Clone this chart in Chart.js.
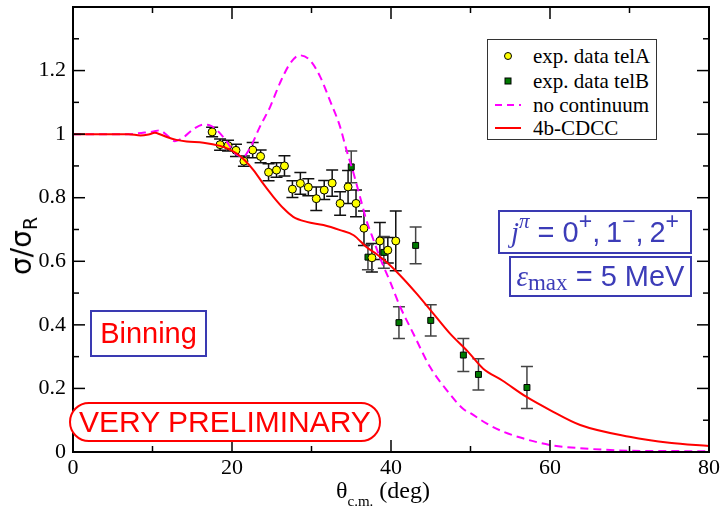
<!DOCTYPE html>
<html><head><meta charset="utf-8">
<script src="https://cdn.jsdelivr.net/npm/chart.js@4.4.0/dist/chart.umd.min.js"></script>
<style>
body{margin:0;background:#fff;}
#wrap{position:relative;width:724px;height:509px;overflow:hidden;background:#fff;}
canvas{position:absolute;left:0;top:0;}
.ov{position:absolute;white-space:nowrap;line-height:1;}
#ytitle{left:24px;top:246px;transform:translate(-50%,-50%) rotate(-90deg);font-family:"DejaVu Sans",sans-serif;font-size:28px;color:#000;}
#ytitle sub{font-size:19px;vertical-align:-6px;}
#xtitle{left:383px;top:478px;transform:translateX(-50%);font-family:"Liberation Serif",serif;font-size:24px;color:#000;}
#xtitle sub{font-size:15px;vertical-align:-8px;}
#legend{left:487px;top:39px;width:168px;height:99px;border:1.5px solid #333;font-family:"Liberation Serif",serif;font-size:21px;color:#000;background:#fff;}
.lrow{position:absolute;left:0;height:24px;display:flex;align-items:center;}
.lrow svg{margin-left:7px;margin-right:12px;}
.box{display:flex;align-items:center;justify-content:center;box-sizing:border-box;}
#jpi{left:498px;top:210px;width:194px;height:44px;border:2px solid #3a3ab2;color:#3c3cb8;font-family:"Liberation Sans",sans-serif;font-size:29px;}
#emax{left:509px;top:256px;width:183px;height:41px;border:2px solid #3a3ab2;color:#3c3cb8;font-family:"Liberation Sans",sans-serif;font-size:29px;}
.mi{font-family:"Liberation Serif",serif;font-style:italic;}
#jpi sup{font-size:23px;line-height:1;position:relative;top:-11px;vertical-align:baseline;}
#jpi sup.mi{font-size:21px;}
#emax sub{font-family:"Liberation Serif",serif;font-size:23px;line-height:1;position:relative;top:6px;vertical-align:baseline;}
#binning{left:90px;top:310px;width:117px;height:47px;border:2px solid #3a3ab2;color:#ff0000;font-family:"Liberation Sans",sans-serif;font-size:29px;}
#prelim{left:69px;top:402px;width:312px;height:40px;border:2.5px solid #ff0000;border-radius:20px;color:#ff0000;font-family:"Liberation Sans",sans-serif;font-size:30px;background:#fff;}
</style></head><body>
<div id="wrap">
<canvas id="c" width="724" height="509"></canvas>
<div class="ov" id="ytitle">σ/σ<sub>R</sub></div>
<div class="ov" id="xtitle">θ<sub>c.m.</sub> (deg)</div>
<div class="ov" id="legend">
  <div class="lrow" style="top:4px"><svg width="26" height="10"><circle cx="13" cy="5" r="3.5" fill="#ffff00" stroke="#000" stroke-width="1"/></svg>exp. data telA</div>
  <div class="lrow" style="top:29px"><svg width="26" height="10"><rect x="10" y="2" width="6" height="6" fill="#007a00" stroke="#000" stroke-width="1"/></svg>exp. data telB</div>
  <div class="lrow" style="top:53px"><svg width="26" height="10"><line x1="0" y1="5" x2="26" y2="5" stroke="#ff00ff" stroke-width="2" stroke-dasharray="7,5"/></svg>no continuum</div>
  <div class="lrow" style="top:76px"><svg width="26" height="10"><line x1="0" y1="5" x2="26" y2="5" stroke="#ff0000" stroke-width="2"/></svg>4b-CDCC</div>
</div>
<div class="ov box" id="jpi"><span class="mi">j</span><sup class="mi">π</sup>&nbsp;=&nbsp;0<sup>+</sup>,&thinsp;1<sup>−</sup>,&thinsp;2<sup>+</sup></div>
<div class="ov box" id="emax"><span class="mi">ε</span><sub>max</sub>&nbsp;=&nbsp;5 MeV</div>
<div class="ov box" id="binning">Binning</div>
<div class="ov box" id="prelim">VERY PRELIMINARY</div>
</div>
<script>
// ---- data ----
const xTickLabels = [0, 20, 40, 60, 80];
const yTickLabels = [0, 0.2, 0.4, 0.6, 0.8, 1, 1.2];

const telA_x = [17.5, 18.5, 19.5, 20.5, 21.5, 22.6, 23.6, 24.6, 25.6, 26.6, 27.6, 28.6, 29.6, 30.6, 31.6, 32.6, 33.6, 34.6, 35.6, 36.6, 37.6, 38.6, 39.6, 40.6];
const telA_y = [1.007, 0.967, 0.964, 0.949, 0.915, 0.950, 0.930, 0.880, 0.887, 0.900, 0.827, 0.845, 0.833, 0.797, 0.824, 0.846, 0.782, 0.834, 0.782, 0.704, 0.611, 0.664, 0.635, 0.664];
const telA_err = [0.015, 0.018, 0.017, 0.019, 0.016, 0.024, 0.020, 0.027, 0.023, 0.032, 0.026, 0.034, 0.027, 0.037, 0.030, 0.041, 0.037, 0.052, 0.042, 0.054, 0.045, 0.058, 0.040, 0.094];

const telB_x = [35.0, 37.1, 39.1, 41.0, 43.1, 45.0, 49.1, 51.0, 57.1];
const telB_y = [0.897, 0.613, 0.628, 0.407, 0.650, 0.414, 0.305, 0.244, 0.203];
const telB_err = [0.050, 0.040, 0.050, 0.050, 0.058, 0.049, 0.052, 0.049, 0.066];

const noCont_x = [0, 2, 4, 6, 7, 8, 9, 10.1, 10.9, 11.8, 12.8, 13.9, 15.1, 16.4, 17.3, 18.1, 19.3, 20.4, 21.4, 22.3, 23.5, 24.8, 26.0, 27.3, 28.5, 29.8, 31.1, 32.3, 33.6, 34.4, 35.3, 36.1, 36.9, 37.8, 38.6, 39.9, 41.1, 42.8, 44.9, 47.0, 49.1, 50.0, 52.0, 54.1, 56.6, 60, 63.8, 70, 75, 80];
const noCont_y = [1.0, 1.0, 1.0, 1.0, 1.0, 1.002, 1.005, 1.008, 1.012, 0.997, 0.978, 0.990, 1.015, 1.030, 1.027, 1.013, 0.978, 0.940, 0.929, 0.958, 1.023, 1.086, 1.159, 1.222, 1.248, 1.233, 1.180, 1.107, 1.023, 0.950, 0.876, 0.803, 0.730, 0.667, 0.612, 0.535, 0.460, 0.373, 0.268, 0.195, 0.135, 0.122, 0.090, 0.064, 0.043, 0.022, 0.012, 0.004, 0.003, 0.002];

const cdcc_x = [0, 4, 7, 8.5, 9.5, 10.3, 11.0, 11.8, 13.0, 14.3, 16.4, 18.5, 19.6, 20.6, 21.6, 22.7, 23.9, 25.2, 26.5, 27.7, 29.4, 31.5, 33.6, 35.3, 36.9, 38.2, 39.5, 41.1, 43.2, 45.3, 47.4, 49.7, 51.6, 54.0, 57.0, 60.0, 63.8, 70.0, 75.0, 80.0];
const cdcc_y = [1.0, 1.0, 1.0, 0.996, 0.999, 1.004, 0.999, 0.991, 0.982, 0.977, 0.973, 0.963, 0.953, 0.939, 0.918, 0.887, 0.845, 0.803, 0.766, 0.740, 0.724, 0.714, 0.698, 0.682, 0.645, 0.622, 0.596, 0.557, 0.499, 0.436, 0.373, 0.315, 0.262, 0.225, 0.174, 0.132, 0.085, 0.048, 0.029, 0.019];

const pts = (xs, ys) => xs.map((v, i) => ({x: v, y: ys[i]}));

const errorBars = {
  id: 'errorBars',
  beforeDatasetsDraw(chart) {
    const {ctx, scales: {x, y}} = chart;
    const sets = [[telA_x, telA_y, telA_err, '#111'], [telB_x, telB_y, telB_err, '#444']];
    ctx.save();
    ctx.lineWidth = 1.5;
    for (const [xs, ys, es, col] of sets) {
      ctx.strokeStyle = col;
      xs.forEach((xv, i) => {
        const px = x.getPixelForValue(xv);
        const t = y.getPixelForValue(ys[i] + es[i]);
        const b = y.getPixelForValue(ys[i] - es[i]);
        ctx.beginPath();
        ctx.moveTo(px, t); ctx.lineTo(px, b);
        ctx.moveTo(px - 6, t); ctx.lineTo(px + 6, t);
        ctx.moveTo(px - 6, b); ctx.lineTo(px + 6, b);
        ctx.stroke();
      });
    }
    ctx.restore();
  }
};

const frame = {
  id: 'frame',
  afterDatasetsDraw(chart) {
    const {ctx, chartArea: a, scales: {x, y}} = chart;
    ctx.save();
    ctx.strokeStyle = '#000';
    ctx.lineWidth = 1.5;
    const seg = (x1, y1, x2, y2) => { ctx.beginPath(); ctx.moveTo(x1, y1); ctx.lineTo(x2, y2); ctx.stroke(); };
    for (let k = 0; k <= 8; k++) {
      const v = k * 10, len = (k % 2 === 0) ? 12 : 6;
      const px = x.getPixelForValue(v);
      seg(px, a.bottom, px, a.bottom - len);
      seg(px, a.top, px, a.top + len);
    }
    for (let k = 0; k <= 14; k++) {
      const v = k / 10, len = (k % 2 === 0) ? 12 : 6;
      const py = y.getPixelForValue(v);
      seg(a.left, py, a.left + len, py);
      seg(a.right, py, a.right - len, py);
    }
    ctx.lineWidth = 2;
    ctx.strokeRect(a.left, a.top, a.right - a.left, a.bottom - a.top);
    ctx.restore();
  }
};

new Chart(document.getElementById('c'), {
  type: 'scatter',
  data: {
    datasets: [
      {label: 'exp. data telA', data: pts(telA_x, telA_y), pointStyle: 'circle', pointRadius: 4, backgroundColor: '#ffff00', borderColor: '#000', borderWidth: 1, order: 2},
      {label: 'exp. data telB', data: pts(telB_x, telB_y), pointStyle: 'rect', pointRadius: 4.2, backgroundColor: '#007a00', borderColor: '#000', borderWidth: 1, order: 2},
      {label: 'no continuum', type: 'line', data: pts(noCont_x, noCont_y), borderColor: '#ff00ff', borderWidth: 2, borderDash: [8, 5], pointRadius: 0, cubicInterpolationMode: 'monotone', fill: false, order: 1},
      {label: '4b-CDCC', type: 'line', data: pts(cdcc_x, cdcc_y), borderColor: '#ff0000', borderWidth: 2, pointRadius: 0, cubicInterpolationMode: 'monotone', fill: false, order: 0}
    ]
  },
  options: {
    responsive: false,
    animation: false,
    devicePixelRatio: 1,
    layout: {padding: {top: 7, right: 15, left: 0, bottom: 0}},
    plugins: {legend: {display: false}, tooltip: {enabled: false}},
    scales: {
      x: {
        type: 'linear', min: 0, max: 80,
        grid: {display: false, drawTicks: false},
        border: {display: false},
        afterBuildTicks: s => { s.ticks = xTickLabels.map(v => ({value: v})); },
        ticks: {color: '#000', font: {family: 'Liberation Serif', size: 22}, padding: 3, maxRotation: 0, autoSkip: false},
        afterFit: s => { s.height = 57; s.paddingLeft = 0; s.paddingRight = 0; }
      },
      y: {
        type: 'linear', min: 0, max: 1.4,
        grid: {display: false, drawTicks: false},
        border: {display: false},
        afterBuildTicks: s => { s.ticks = yTickLabels.map(v => ({value: v})); },
        ticks: {color: '#000', font: {family: 'Liberation Serif', size: 22}, padding: 7, autoSkip: false, callback: v => String(Math.round(v * 10) / 10)},
        afterFit: s => { s.width = 73; s.paddingTop = 0; s.paddingBottom = 0; }
      }
    }
  },
  plugins: [errorBars, frame]
});
</script>
</body></html>
